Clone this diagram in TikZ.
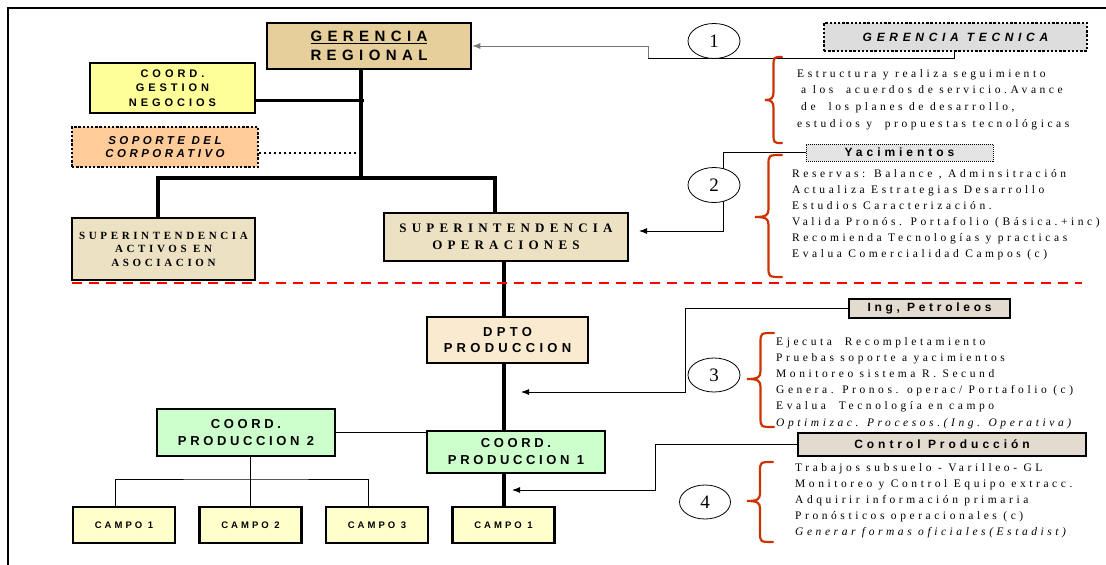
\documentclass[tikz,border=0pt]{standalone}
\usepackage{fontspec}
\setmainfont{Liberation Serif}
\newfontfamily\sansf{Liberation Sans}
\usetikzlibrary{arrows.meta,shapes.geometric}
\pgfdeclarelayer{background}
\pgfsetlayers{background,main}

\definecolor{parchA}{HTML}{E6CF9A}
\definecolor{parchB}{HTML}{EDE1C3}
\definecolor{parchC}{HTML}{F9EAD0}
\definecolor{gestion}{HTML}{FFFF99}
\definecolor{soporte}{HTML}{FFCC99}
\definecolor{coordp}{HTML}{CCFFCC}
\definecolor{campo}{HTML}{FFFFCC}
\definecolor{tecgray}{HTML}{DDDDDD}
\definecolor{yacgray}{HTML}{E4E4E4}
\definecolor{ingfill}{HTML}{E3DBD0}
\definecolor{braceRed}{HTML}{CC3300}
\definecolor{linkgray}{HTML}{777777}

\newcommand\ls[1]{\addfontfeatures{LetterSpace=#1}}
\newcommand\sz[2]{\fontsize{#1}{#2}\selectfont}

% curly brace opening to the right: right x, tip x, top y, bottom y, tip y
\newcommand\orgbrace[5]{%
  \pgfmathsetmacro\xm{(#1+#2)/2}%
  \draw[curl] (#1,#3) .. controls (\xm,#3) and (\xm,#3) .. (\xm,#3+10)
    -- (\xm,#5-8) .. controls (\xm,#5-2) and (\xm-2,#5) .. (#2,#5)
    .. controls (\xm-2,#5) and (\xm,#5+2) .. (\xm,#5+8)
    -- (\xm,#4-10) .. controls (\xm,#4) and (\xm,#4) .. (#1,#4);}

% one node per text line: name, x, first baseline, line step, lines
\newcommand\textlines[5]{%
  \foreach \t [count=\i from 0] in {#5} {
    \node[note, anchor=base west] (#1-\i) at (#2, #3+\i*#4) {\t};
  }}

\begin{document}
\begin{tikzpicture}[x=1pt,y=-1pt,
  box/.style={draw, line width=2.6pt, inner sep=0pt, align=center},
  sbox/.style={box, font=\sansf\bfseries},
  dotbox/.style={draw, line width=2.4pt, dash pattern=on 2.4pt off 1.8pt,
    inner sep=0pt, align=center},
  trunk/.style={line width=4pt},
  link/.style={line width=0.9pt},
  arr/.style={-{Latex[length=8pt,width=6pt]}},
  note/.style={inner sep=0pt, font=\sz{11.5}{16}\ls{31}},
  curl/.style={draw=braceRed, line width=2.2pt, line cap=round},
  num/.style={ellipse, draw, line width=0.8pt, fill=white, inner sep=0pt,
    font=\sz{19}{19}},
]
\useasboundingbox (0,0) rectangle (1106,565);

% page frame
\draw[line width=2pt] (8,565) -- (8,8) -- (1106,8);

% ---------- organisation boxes ----------
\node[sbox, fill=parchA, minimum width=204pt, minimum height=46pt,
  font=\sansf\bfseries\sz{15}{19}\ls{36}] (gr) at (369,46)
  {\underline{GERENCIA}\\REGIONAL};
\node[sbox, fill=gestion, minimum width=165pt, minimum height=50pt,
  font=\sansf\bfseries\sz{11}{14.5}\ls{36}] (cg) at (172.5,88)
  {COORD.\\GESTION\\NEGOCIOS};
\node[dotbox, fill=soporte, minimum width=186pt, minimum height=40pt,
  font=\sansf\bfseries\itshape\sz{11.5}{12.5}\ls{30}] (sop) at (165,147)
  {SOPORTE DEL\\CORPORATIVO};
\node[box, fill=parchB, minimum width=183pt, minimum height=62pt,
  font=\bfseries\sz{11}{13.5}\ls{33}] (acts) at (163.5,249)
  {SUPERINTENDENCIA\\ACTIVOS EN\\ASOCIACION};
\node[box, fill=parchB, minimum width=244pt, minimum height=48pt,
  font=\bfseries\sz{13}{17}\ls{40}] (ops) at (506,237)
  {SUPERINTENDENCIA\\OPERACIONES};
\node[sbox, fill=parchC, minimum width=161pt, minimum height=46pt,
  font=\sansf\bfseries\sz{13}{16}\ls{33}] (dpto) at (507.5,340)
  {DPTO\\PRODUCCION};
\node[sbox, fill=coordp, minimum width=178pt, minimum height=47pt,
  font=\sansf\bfseries\sz{13}{17}\ls{28}] (cp2) at (246,432.5)
  {COORD.\\PRODUCCION 2};
\node[sbox, fill=coordp, minimum width=178pt, minimum height=42pt,
  font=\sansf\bfseries\sz{13}{17}\ls{28}] (cp1) at (516,452)
  {COORD.\\PRODUCCION 1};
\foreach \n/\cx/\lab in {ca/124/CAMPO 1, cb/250.5/CAMPO 2, cc/377/CAMPO 3, cd/503.5/CAMPO 1}
  \node[sbox, fill=campo, minimum width=102pt, minimum height=36pt,
    font=\sansf\bfseries\sz{9.5}{11}\ls{32}] (\n) at (\cx,525) {\lab};

% ---------- staff function boxes ----------
\node[dotbox, fill=tecgray, minimum width=263pt, minimum height=28pt,
  font=\sansf\bfseries\itshape\sz{12}{13}\ls{39}] (gt) at (955.5,37)
  {GERENCIA TECNICA};
\node[draw, line width=0.9pt, dash pattern=on 1pt off 1pt, fill=yacgray,
  inner sep=0pt, minimum width=187pt, minimum height=17pt,
  font=\sansf\bfseries\sz{12}{13}\ls{33}] (yac) at (899.5,152.5)
  {Yacimientos};
\node[draw, line width=2pt, fill=ingfill, inner sep=0pt,
  minimum width=161pt, minimum height=19pt,
  font=\sansf\bfseries\sz{12}{13}\ls{31}] (ip) at (929.5,308.5)
  {Ing, Petroleos};
\node[draw, line width=2pt, fill=ingfill, inner sep=0pt,
  minimum width=288pt, minimum height=23pt,
  font=\sansf\bfseries\sz{12}{13}\ls{33}] (ctl) at (942,444.5)
  {Control Producción};

% ---------- connectors of the line organisation ----------
\coordinate (hub) at (361,178);
\coordinate (bus) at (250,479);
\begin{pgfonlayer}{background}
  \draw[trunk] (gr.south -| hub) -- (hub);
  \draw[line width=3.4pt] ([xshift=-5.5pt]acts.north) |- (hub) -| ([xshift=-11pt]ops.north);
  \draw[line width=3pt] ([yshift=-12pt]cg.east) -- ([yshift=-12pt,xshift=3pt]cg.east -| hub);
  \draw[line width=1.6pt, dash pattern=on 1.6pt off 3.4pt] ([yshift=-6pt]sop.east) -- ([yshift=-6pt,xshift=-3pt]sop.east -| hub);
  \draw[trunk] (ops.south -| cd.north) -- (cd.north);
  \draw[link] (cp2.east) -- (cp2.east -| cp1.west);
  \draw[link] (cp2.south -| bus) -- (cb.north -| bus);
  \draw[link] ([xshift=-9pt]ca.north) |- (bus) -| ([xshift=-9pt]cc.north);
\end{pgfonlayer}

% red division line
\draw[red, line width=2pt, dash pattern=on 10pt off 7pt] (72,283) -- (1082,283);

% ---------- staff connectors ----------
\coordinate (k1) at (648,58);
\coordinate (k2) at (723,231);
\coordinate (a2) at (639,231);
\coordinate (k3) at (685,392);
\coordinate (a3) at (521,392);
\coordinate (k4) at (655,490);
\coordinate (a4) at (512,490);
\draw[link] ([xshift=-1.5pt]gt.south) |- (k1);
\draw[link, linkgray, arr] (k1) |- (gr.east);
\draw[link, arr] (yac.west) -| (k2) -- (a2);
\draw[link, arr] (ip.west) -| (k3) -- (a3);
\draw[link, arr] (ctl.west) -| (k4) -- (a4);

\node[num, minimum width=52pt, minimum height=35pt] (n1) at (714,41) {1};
\node[num, minimum width=52pt, minimum height=35pt] (n2) at (714,185) {2};
\node[num, minimum width=52pt, minimum height=34pt] (n3) at (714,375) {3};
\node[num, minimum width=51pt, minimum height=34pt] (n4) at (705,502) {4};

% ---------- braces and duties ----------
\orgbrace{782}{765}{57}{143}{100}
\orgbrace{782}{755}{155}{277}{217}
\orgbrace{774}{747}{333}{427}{379}
\orgbrace{773}{747}{462}{542}{501}

\textlines{ta}{797}{77}{16.7}{{Estructura y realiza seguimiento},
  {\hspace{4pt}a los\ \ acuerdos de servicio.Avance},
  {\hspace{4pt}de\ \ los planes de desarrollo,},
  {estudios y\ \ propuestas tecnológicas}}
\textlines{tb}{792}{177}{16}{{Reservas: Balance , Adminsitración},
  {Actualiza Estrategias Desarrollo},
  {Estudios Caracterización.},
  {Valida Pronós. Portafolio (Básica.+inc)},
  {Recomienda Tecnologías y practicas},
  {Evalua Comercialidad Campos (c)}}
\textlines{tc}{776}{345}{16.2}{{Ejecuta\ \ Recompletamiento},
  {Pruebas soporte a yacimientos},
  {Monitoreo sistema R. Secund},
  {Genera. Pronos. operac/ Portafolio (c)},
  {Evalua\ \ Tecnología en campo},
  {\itshape Optimizac. Procesos.(Ing. Operativa)}}
\textlines{td}{795}{471}{16}{{Trabajos subsuelo - Varilleo- GL},
  {Monitoreo y Control Equipo extracc.},
  {Adquirir información primaria},
  {Pronósticos operacionales (c)},
  {\itshape Generar formas oficiales(Estadist)}}
\end{tikzpicture}
\end{document}
